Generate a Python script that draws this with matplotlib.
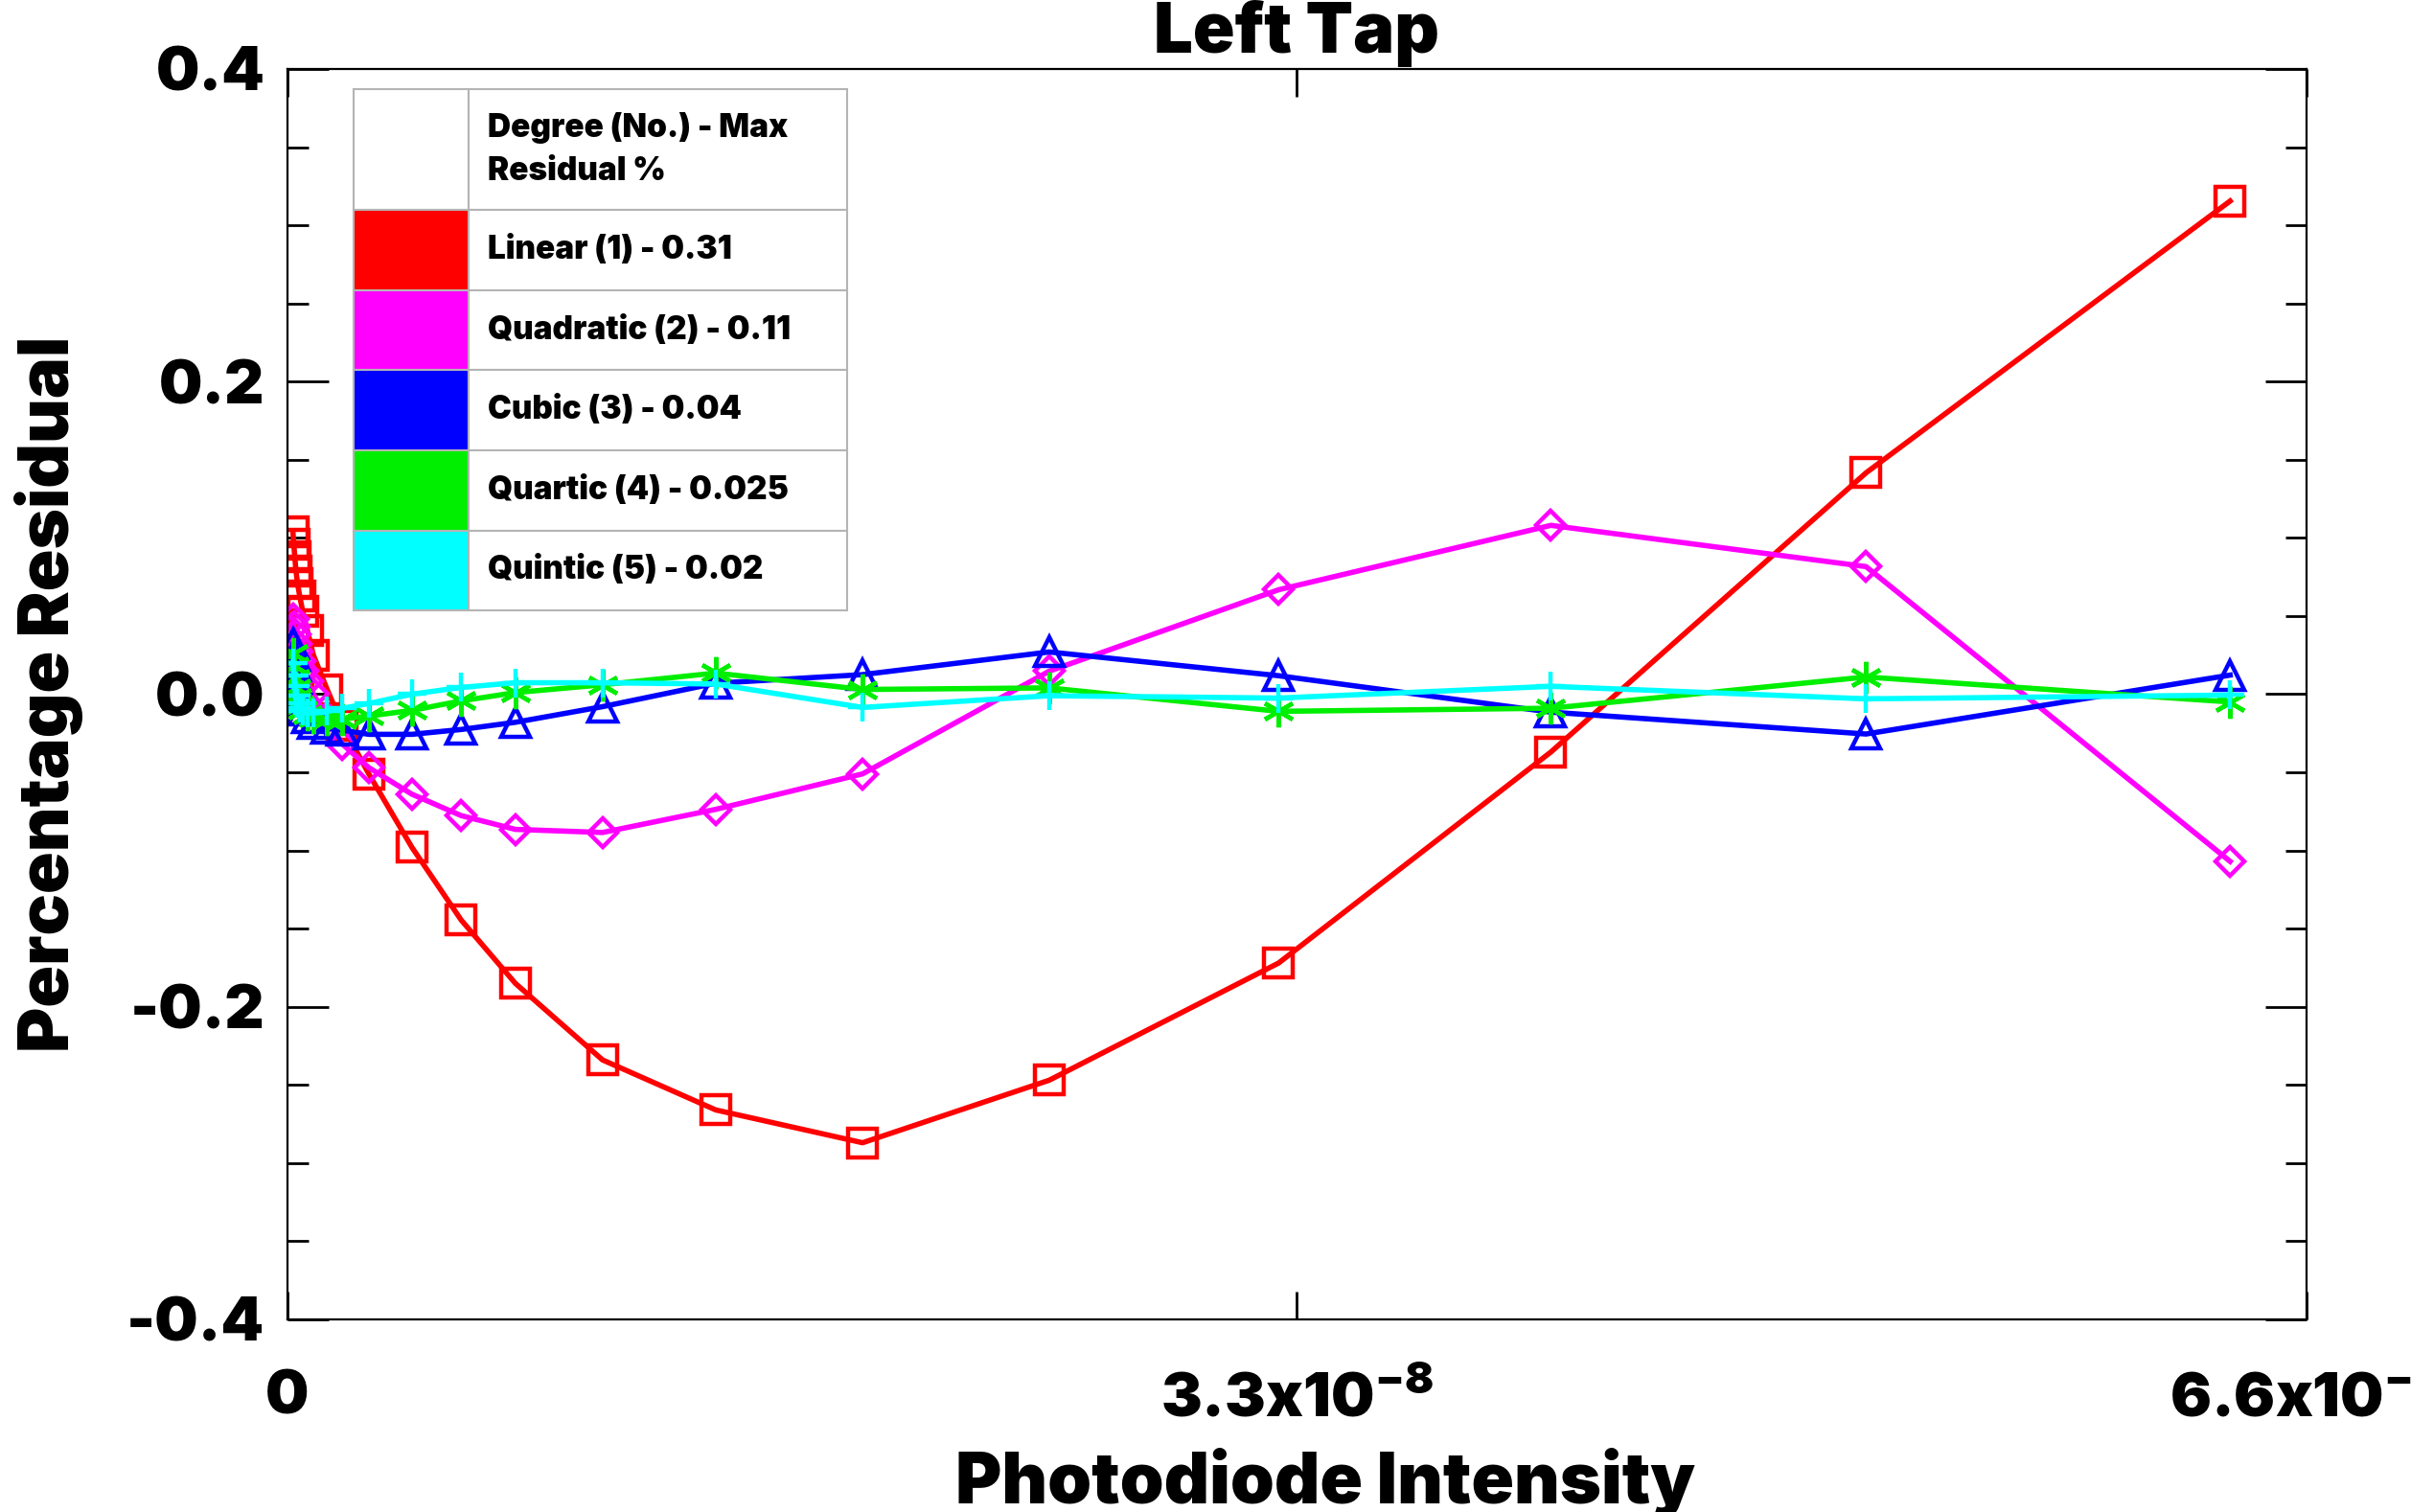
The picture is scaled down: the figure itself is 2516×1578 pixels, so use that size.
import numpy as np
import matplotlib
matplotlib.use("Agg")
import matplotlib.pyplot as plt
from matplotlib.ticker import MultipleLocator

plt.rcParams['font.family'] = ['Inter', 'DejaVu Sans']
plt.rcParams['font.weight'] = 'black'
plt.rcParams['axes.titleweight'] = 'black'
plt.rcParams['axes.labelweight'] = 'black'
plt.rcParams['mathtext.fontset'] = 'custom'
plt.rcParams['mathtext.rm'] = 'Inter:black'
plt.rcParams['mathtext.it'] = 'Inter:black'
plt.rcParams['mathtext.bf'] = 'Inter:black'

# Photodiode-Intensität (Einheiten 1e-8)
intensity = np.array([0.018, 0.021, 0.024, 0.028, 0.033, 0.040, 0.050, 0.065, 0.085, 0.13, 0.18,
                      0.266, 0.407, 0.568, 0.745, 1.03, 1.40, 1.88, 2.49, 3.24, 4.13, 5.16, 6.35]) * 1e-8

# Residuen in Prozent je Polynomgrad
linear = [0.104, 0.096, 0.088, 0.079, 0.071, 0.063, 0.053, 0.041, 0.025, 0.003, -0.020,
          -0.051, -0.098, -0.1445, -0.185, -0.234, -0.266, -0.287, -0.247, -0.172, -0.037, 0.1416, 0.3155]
quadratic = [0.048, 0.043, 0.038, 0.032, 0.027, 0.021, 0.015, 0.008, 0.000, -0.015, -0.032,
             -0.047, -0.064, -0.0777, -0.0865, -0.0885, -0.0737, -0.051, 0.0147, 0.0668, 0.108, 0.0816, -0.107]
cubic = [0.032, 0.025, 0.018, 0.010, 0.003, -0.004, -0.010, -0.015, -0.019, -0.022, -0.023,
         -0.0257, -0.0257, -0.0226, -0.018, -0.008, 0.007, 0.0125, 0.027, 0.0118, -0.0115, -0.0255, 0.0122]
quartic = [0.026, 0.018, 0.010, 0.004, -0.002, -0.007, -0.010, -0.013, -0.015, -0.016, -0.016,
           -0.014, -0.0104, -0.0043, 0.001, 0.006, 0.0135, 0.003, 0.004, -0.011, -0.009, 0.011, -0.005]
quintic = [0.020, 0.012, 0.005, -0.001, -0.006, -0.009, -0.011, -0.012, -0.012, -0.011, -0.009,
           -0.006, 0.000, 0.0043, 0.0073, 0.0073, 0.0065, -0.0085, -0.001, -0.0025, 0.005, -0.003, -0.0006]

labels = ["Linear (1) - 0.31", "Quadratic (2) - 0.11", "Cubic (3) - 0.04",
          "Quartic (4) - 0.025", "Quintic (5) - 0.02"]
colors = ["#ff0000", "#ff00ff", "#0000ff", "#00ee00", "#00ffff"]
markers = ["s", "D", "^", (6, 2, 0), "+"]
msizes = [21, 15, 22, 24, 22]

xticks = [0, 3.3e-8, 6.6e-8]
xticklabels = ["0", "3.3x10$^{-8}$", "6.6x10$^{-8}$"]
yticks = [-0.4, -0.2, 0.0, 0.2, 0.4]
yticklabels = ["-0.4", "-0.2", "0.0", "0.2", "0.4"]

fig = plt.figure(figsize=(25.16, 15.78), dpi=100)
ax = fig.add_axes([0.1192, 0.1274, 0.8375, 0.827])

series = [linear, quadratic, cubic, quartic, quintic]
for y, c, m, ms in zip(series, colors, markers, msizes):
    ax.plot(intensity, y, color=c, lw=4, marker=m, ms=ms,
            markerfacecolor="none", markeredgecolor=c, markeredgewidth=3.2)

ax.set_xlim(0, 6.6e-8)
ax.set_ylim(-0.4, 0.4)
ax.set_xticks(xticks, xticklabels)
ax.set_yticks(yticks, yticklabels)
ax.yaxis.set_minor_locator(MultipleLocator(0.05))
ax.tick_params(axis="both", which="both", direction="in", top=True, right=True, width=2)
ax.tick_params(axis="y", which="major", length=31, labelsize=46, pad=17)
ax.tick_params(axis="y", which="minor", length=16)
ax.tick_params(axis="x", which="major", length=21, labelsize=46, pad=38)
for s in ax.spines.values():
    s.set_linewidth(1.6)

ax.set_title("Left Tap", fontsize=52, pad=12)
ax.set_xlabel("Photodiode Intensity", fontsize=53)
ax.set_ylabel("Percentage Residual", fontsize=52)
ax.xaxis.set_label_coords(0.514, -0.103)
ax.yaxis.set_label_coords(-0.101, 0.5)

# Legende als Tabelle
cell_text = [["", "Degree (No.) - Max\nResidual %"]] + [["", l] for l in labels]
cell_colors = [["white", "white"]] + [[c, "white"] for c in colors]
tab = ax.table(cellText=cell_text, cellColours=cell_colors, cellLoc="left",
               bbox=[0.0327, 0.567, 0.2445, 0.4172], zorder=5)
tab.auto_set_font_size(False)
tab.set_fontsize(24)
for (r, col), cell in tab.get_celld().items():
    cell.set_edgecolor("#b4b4b4")
    cell.set_linewidth(1.5)
    cell.set_width(0.234 if col == 0 else 0.766)
    cell.set_height(0.233 if r == 0 else 0.1534)
    cell.PAD = 0.05
    cell.get_text().set_fontweight("black")
    cell.get_text().set_linespacing(1.5)

fig.savefig("out.png", dpi=100)
